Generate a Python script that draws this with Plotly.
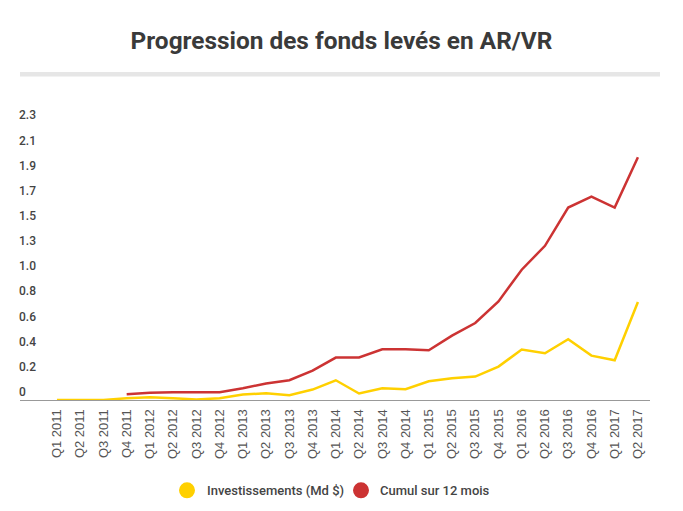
import plotly.graph_objects as go

quarters = ["Q1 2011","Q2 2011","Q3 2011","Q4 2011","Q1 2012","Q2 2012","Q3 2012","Q4 2012",
            "Q1 2013","Q2 2013","Q3 2013","Q4 2013","Q1 2014","Q2 2014","Q3 2014","Q4 2014",
            "Q1 2015","Q2 2015","Q3 2015","Q4 2015","Q1 2016","Q2 2016","Q3 2016","Q4 2016",
            "Q1 2017","Q2 2017"]
investissements = [0.0, 0.0, 0.0, 0.015, 0.023, 0.015, 0.004, 0.015,
                   0.045, 0.056, 0.04, 0.087, 0.164, 0.054, 0.098, 0.09,
                   0.156, 0.181, 0.195, 0.278, 0.419, 0.389, 0.505, 0.369,
                   0.33, 0.815]
cumul = [None, None, None, 0.048, 0.06, 0.065, 0.065, 0.065,
         0.098, 0.137, 0.164, 0.245, 0.353, 0.353, 0.422, 0.422,
         0.413, 0.535, 0.64, 0.82, 1.083, 1.282, 1.60, 1.69,
         1.60, 2.018]
y_tick_vals = [i * 2.3 / 11 for i in range(12)]
y_tick_text = ["0", "0.2", "0.4", "0.6", "0.8", "1.0", "1.3", "1.5", "1.7", "1.9", "2.1", "2.3"]
series_names = ["Investissements (Md $)", "Cumul sur 12 mois"]
colors = ["#FFD000", "#CC3333"]

# page body adds an 8px margin; figure is sized so that it fits the window
OFF = 8
W, H = 683 - OFF, 511 - OFF
ML = 20 - OFF
MR = W - (650 - OFF)
MT = 110 - OFF
MB = H - (400.5 - OFF)
PW, PH = W - ML - MR, H - MT - MB

def px_x(x):
    # x given in window pixels
    return (x - OFF - ML) / PW

def px_y(y):
    return (H - MB - (y - OFF)) / PH

fig = go.Figure()
fig.add_trace(go.Scatter(x=quarters, y=investissements, mode="lines", name=series_names[0],
                         line=dict(color=colors[0], width=2.5), showlegend=False))
fig.add_trace(go.Scatter(x=quarters, y=cumul, mode="lines", name=series_names[1],
                         line=dict(color=colors[1], width=2.5), showlegend=False))

fig.update_layout(
    width=W, height=H,
    margin=dict(l=ML, r=MR, t=MT, b=MB),
    paper_bgcolor="white", plot_bgcolor="white",
    title=dict(text="<b>Progression des fonds levés en AR/VR</b>", x=0.5 + (341.5 - OFF - W / 2) / W,
               xanchor="center",
               y=1 - (40.5 - OFF) / H, yanchor="middle",
               font=dict(family="Roboto", size=24.4, color="#3a3a3a")),
    xaxis=dict(range=[-1.59, 25.52], showgrid=False, zeroline=False, showline=True,
               linecolor="#999999", linewidth=1, tickangle=-90, ticks="",
               tickfont=dict(family="Liberation Sans", size=13, color="#555555"),
               ticklabelstandoff=3, automargin=False),
    yaxis=dict(range=[0, 2.411], showgrid=False, zeroline=False, showline=False,
               showticklabels=False, automargin=False),
    showlegend=False,
)

# y tick labels, placed above their tick position inside the plot area
for v, t in zip(y_tick_vals, y_tick_text):
    fig.add_annotation(xref="paper", yref="y", x=0, y=v, text=t, showarrow=False,
                       xanchor="left", yanchor="middle", yshift=8, xshift=-3,
                       font=dict(family="Roboto", size=12, color="#444444", weight=500))

# separator bar under title
fig.add_shape(type="rect", xref="paper", yref="paper",
              x0=px_x(20), x1=px_x(660), y0=px_y(76.5), y1=px_y(72),
              fillcolor="#E6E6E6", line_width=0)

# legend built from series names / colors
leg_y = px_y(491)
circle_x = [187, 361]
text_x = [207, 380]
r_px = 8
for i in range(2):
    fig.add_shape(type="circle", xref="paper", yref="paper",
                  x0=px_x(circle_x[i] - r_px), x1=px_x(circle_x[i] + r_px),
                  y0=px_y(491 + r_px), y1=px_y(491 - r_px),
                  fillcolor=colors[i], line_width=0)
    fig.add_annotation(xref="paper", yref="paper", x=px_x(text_x[i]), y=leg_y,
                       text=series_names[i], showarrow=False, xanchor="left", yanchor="middle",
                       xshift=-2,
                       font=dict(family="Roboto", size=13, color="#444444", weight=500))

fig.write_html("out.html")
